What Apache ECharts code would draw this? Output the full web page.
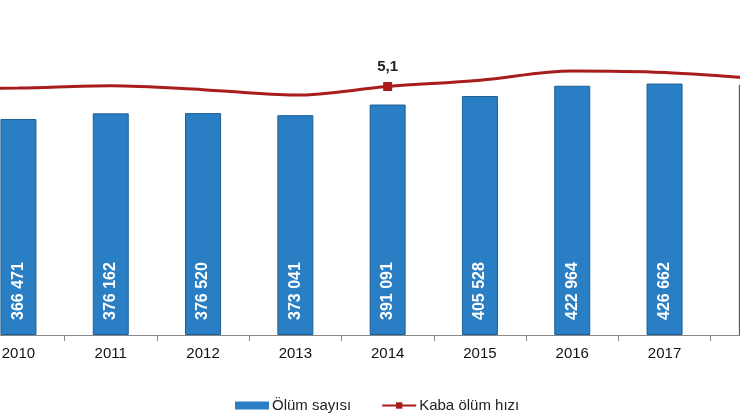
<!DOCTYPE html>
<html>
<head>
<meta charset="utf-8">
<script src="https://cdn.jsdelivr.net/npm/echarts@6/dist/echarts.min.js"></script>
<style>
  html, body { margin: 0; padding: 0; background: #fff; overflow: hidden; }
  #wrap { position: relative; width: 740px; height: 417px; overflow: hidden; }
  /* grafik kırpılmış görünüyor: 2009 solda dışarıda, 2018 sağ kenarda */
  #main { position: absolute; left: -120px; top: 0; width: 923px; height: 417px; }
</style>
</head>
<body>
<div id="wrap"><div id="main"></div></div>
<script>
// yıllar, ölüm sayısı ve kaba ölüm hızı (binde)
var years = ['2009', '2010', '2011', '2012', '2013', '2014', '2015', '2016', '2017', '2018'];
var deaths = [368000, 366471, 376162, 376520, 373041, 391091, 405528, 422964, 426662, 425000];
var rates = [5.07, 5.08, 5.11, 5.06, 4.99, 5.1, 5.18, 5.30, 5.28, 5.20];
var labelIndex = 5; // sadece 2014 etiketi görünüyor

var myChart = echarts.init(document.getElementById('main'));

var rateData = rates.map(function (v, i) {
  if (i === labelIndex) {
    return {
      value: v,
      symbol: 'rect',
      symbolSize: 9,
      label: {
        show: true,
        position: 'top',
        distance: 8,
        formatter: function (p) { return String(p.value).replace('.', ','); },
        fontSize: 15,
        fontWeight: 'bold',
        color: '#222',
        fontFamily: 'Liberation Sans'
      }
    };
  }
  return { value: v, symbol: 'none' };
});

var option = {
  animation: false,
  textStyle: { fontFamily: 'Liberation Sans' },
  legend: {
    top: 393,
    left: 350,
    itemGap: 30,
    itemWidth: 34,
    itemHeight: 8,
    textStyle: { fontSize: 15, color: '#222', padding: [0, 0, 0, -2] },
    data: [
      { name: 'Ölüm sayısı', icon: 'rect', itemStyle: { borderWidth: 0 } },
      { name: 'Kaba ölüm hızı' }
    ]
  },
  grid: {
    left: 0,
    right: 0,
    top: 5,
    bottom: 82,
    containLabel: false
  },
  xAxis: {
    type: 'category',
    data: years,
    axisLine: { lineStyle: { color: '#888', width: 1 } },
    axisTick: { show: true, length: 6, lineStyle: { color: '#888' } },
    axisLabel: { fontSize: 15, color: '#111', margin: 11 }
  },
  yAxis: [
    { type: 'value', min: 0, max: 560000, show: false, splitLine: { show: false } },
    { type: 'value', min: 1.9, max: 6.15, show: false, splitLine: { show: false } }
  ],
  series: [
    {
      name: 'Ölüm sayısı',
      type: 'bar',
      data: deaths,
      barWidth: 36,
      itemStyle: { color: '#2a7fc4', borderColor: '#1c5f96', borderWidth: 1 },
      label: {
        show: true,
        position: 'insideBottom',
        rotate: 90,
        align: 'left',
        verticalAlign: 'middle',
        distance: 15,
        fontSize: 16,
        fontWeight: 'bold',
        color: '#fff',
        formatter: function (p) {
          return String(p.value).replace(/\B(?=(\d{3})+(?!\d))/g, ' ');
        }
      }
    },
    {
      name: 'Kaba ölüm hızı',
      type: 'line',
      yAxisIndex: 1,
      data: rateData,
      smooth: 0.35,
      symbol: 'rect',
      symbolSize: 9,
      lineStyle: { color: '#a81c1c', width: 3 },
      itemStyle: { color: '#a81c1c' }
    }
  ]
};

myChart.setOption(option);
</script>
</body>
</html>
